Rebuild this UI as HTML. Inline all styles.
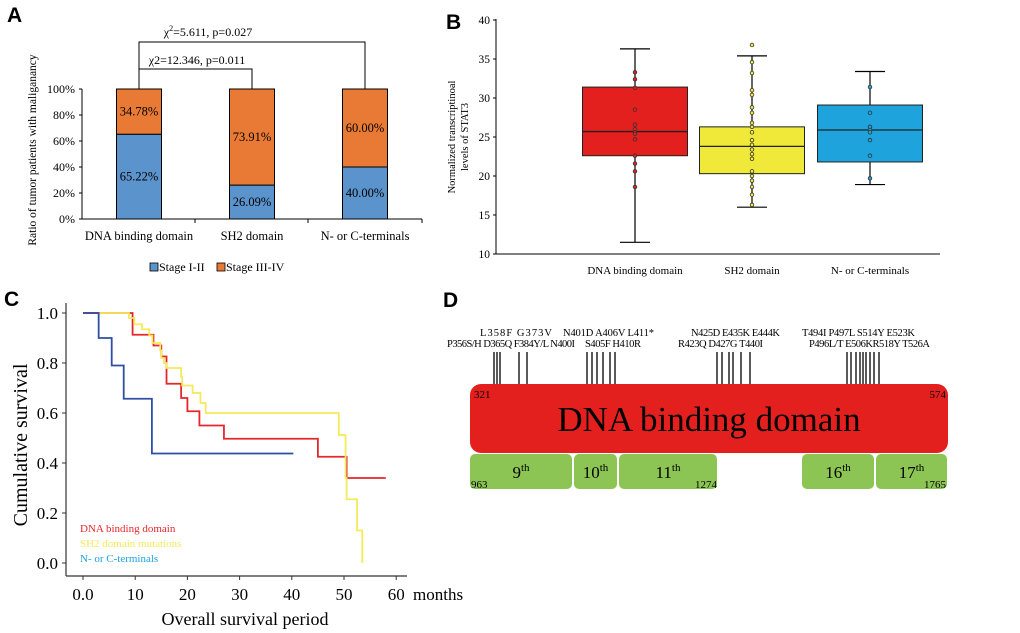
<!DOCTYPE html>
<html><head><meta charset="utf-8"><style>
body{margin:0;background:#fff}
svg{display:block;font-family:"Liberation Serif",serif}
.lt{font-family:"Liberation Sans",sans-serif;font-weight:bold;font-size:21px}
</style></head><body>
<svg id="fig" width="1020" height="633" viewBox="0 0 1020 633">
<text class="lt" x="7" y="22">A</text>
<text class="lt" x="446" y="29">B</text>
<text class="lt" x="4" y="306">C</text>
<text class="lt" x="443" y="307">D</text>
<g id="pa"></g>
<g id="pb"></g>
<g id="pc"></g>
<g id="pd"></g>
</svg>
<script>
const NS="http://www.w3.org/2000/svg";
function mk(p,t,a,txt){const e=document.createElementNS(NS,t);for(const k in a)e.setAttribute(k,a[k]);if(txt!==undefined)e.textContent=txt;p.appendChild(e);return e;}

// ---------- Panel A data ----------
const aCategories=["DNA binding domain","SH2 domain","N- or C-terminals"];
const aStage12=[65.22,26.09,40.00];
const aStage34=[34.78,73.91,60.00];
const aTicks=[0,20,40,60,80,100];
// ---------- Panel B data ----------
const bCategories=["DNA binding  domain","SH2 domain","N- or C-terminals"];
const bMin=[11.5,16.0,18.9];
const bQ1=[22.6,20.3,21.8];
const bMed=[25.7,23.8,25.9];
const bQ3=[31.4,26.3,29.1];
const bMax=[36.3,35.4,33.4];
const bPointsDNA=[33.3,32.4,31.3,28.5,26.6,26.0,25.6,25.4,24.7,22.6,21.6,20.6,18.6];
const bPointsSH2=[36.8,34.6,33.2,31.0,30.4,28.8,28.1,26.8,26.3,25.6,24.6,24.0,23.4,22.8,22.2,20.6,20.0,19.4,18.6,17.6,16.3];
const bPointsNC=[31.4,28.1,26.3,25.9,25.6,24.6,22.6,19.7];
const bTicks=[10,15,20,25,30,35,40];
// ---------- Panel C data ----------
const cBlueT=[0,3,5.5,7.8,13.2,40.3];
const cBlueS=[1,0.9,0.79,0.657,0.438,0.438];
const cRedT=[0,9.5,13.5,15,16,18.8,20,22.3,27,45,50.5,58];
const cRedS=[1,0.913,0.87,0.826,0.717,0.66,0.607,0.55,0.497,0.425,0.34,0.34];
const cYelT=[3,8.8,9.8,11.3,12.7,13.3,14.8,15,15.5,16,18.8,19,21,22.5,23.5,49,50.3,50.5,52.5,53.5];
const cYelS=[1,0.98,0.955,0.935,0.91,0.88,0.85,0.82,0.8,0.78,0.745,0.71,0.68,0.64,0.6,0.512,0.34,0.255,0.13,0];
const cXTicks=[0,10,20,30,40,50,60];
const cXLabels=["0.0","10","20","30","40","50","60"];
const cYTicks=[0,0.2,0.4,0.6,0.8,1.0];

// ===== Panel A =====
(function(){
const g=document.getElementById('pa');
const y=v=>219-v*1.3; const cx=[139,252,365]; const bw=45;
mk(g,'line',{x1:82,y1:89,x2:82,y2:219,stroke:'#000','stroke-width':1});
mk(g,'line',{x1:82,y1:219,x2:422,y2:219,stroke:'#000','stroke-width':1});
[195,308,422].forEach(x=>mk(g,'line',{x1:x,y1:219,x2:x,y2:223,stroke:'#000'}));
aTicks.forEach(t=>{mk(g,'line',{x1:79,y1:y(t),x2:82,y2:y(t),stroke:'#000'});
 const e=mk(g,'text',{x:75,y:y(t)+4,'text-anchor':'end','font-size':12},t+'%');});
aCategories.forEach((c,i)=>{
 const r1=mk(g,'rect',{x:cx[i]-bw/2,y:y(aStage12[i]),width:bw,height:aStage12[i]*1.3,fill:'#5b93cc',stroke:'#000','stroke-width':1});
 
 const top=aStage12[i]+aStage34[i];
 const r2=mk(g,'rect',{x:cx[i]-bw/2,y:y(top),width:bw,height:aStage34[i]*1.3,fill:'#e87a35',stroke:'#000','stroke-width':1});
 
 mk(g,'text',{x:cx[i],y:y(aStage12[i]/2)+4,'text-anchor':'middle','font-size':12.5},aStage12[i].toFixed(2)+'%');
 mk(g,'text',{x:cx[i],y:y(aStage12[i]+aStage34[i]/2)+4,'text-anchor':'middle','font-size':12.5},aStage34[i].toFixed(2)+'%');
 const l=mk(g,'text',{x:cx[i],y:240,'text-anchor':'middle','font-size':12.5},c);
});
mk(g,'polyline',{points:`139,89 139,69 252,69 252,89`,fill:'none',stroke:'#000'});
mk(g,'polyline',{points:`139,69 139,42 365,42 365,89`,fill:'none',stroke:'#000'});
const t1=mk(g,'text',{x:208,y:36,'text-anchor':'middle','font-size':12});t1.innerHTML='χ<tspan font-size="8" dy="-5">2</tspan><tspan dy="5">=5.611, p=0.027</tspan>';
mk(g,'text',{x:197,y:64,'text-anchor':'middle','font-size':12},'χ2=12.346, p=0.011');
const yl=mk(g,'text',{x:0,y:0,transform:'translate(36,150) rotate(-90)','text-anchor':'middle','font-size':11.5},'Ratio  of tumor  patients  with  maliganancy');

const lg=mk(g,'g',{});
mk(lg,'rect',{x:150,y:263,width:8,height:8,fill:'#5b93cc',stroke:'#000','stroke-width':0.8});
mk(lg,'text',{x:159,y:271,'font-size':12},'Stage I-II');
mk(lg,'rect',{x:217,y:263,width:8,height:8,fill:'#e87a35',stroke:'#000','stroke-width':0.8});
mk(lg,'text',{x:226,y:271,'font-size':12},'Stage III-IV');
})();

// ===== Panel B =====
(function(){
const g=document.getElementById('pb');
const y=v=>254-(v-10)*7.8; const cx=[635,752,870]; const bw=105;
const fills=['#e3201d','#f0e93a','#1ea3dc']; const pf=['#e3201d','#f0e93a','#1ea3dc'];
const pts=[bPointsDNA,bPointsSH2,bPointsNC];
mk(g,'line',{x1:496,y1:19,x2:496,y2:254,stroke:'#000'});
mk(g,'line',{x1:496,y1:254,x2:940,y2:254,stroke:'#000'});
bTicks.forEach(t=>{mk(g,'line',{x1:493,y1:y(t),x2:496,y2:y(t),stroke:'#000'});
 const e=mk(g,'text',{x:490,y:y(t)+4,'text-anchor':'end','font-size':11.5},t);});
bCategories.forEach((c,i)=>{
 mk(g,'line',{x1:cx[i],y1:y(bMin[i]),x2:cx[i],y2:y(bMax[i]),stroke:'#000','stroke-width':1.2});
 mk(g,'line',{x1:cx[i]-15,y1:y(bMin[i]),x2:cx[i]+15,y2:y(bMin[i]),stroke:'#000','stroke-width':1.2});
 mk(g,'line',{x1:cx[i]-15,y1:y(bMax[i]),x2:cx[i]+15,y2:y(bMax[i]),stroke:'#000','stroke-width':1.2});
 const b=mk(g,'rect',{x:cx[i]-bw/2,y:y(bQ3[i]),width:bw,height:y(bQ1[i])-y(bQ3[i]),fill:fills[i],stroke:'#222','stroke-width':1});
 
 mk(g,'line',{x1:cx[i]-bw/2,y1:y(bMed[i]),x2:cx[i]+bw/2,y2:y(bMed[i]),stroke:'#222','stroke-width':1.3});
 pts[i].forEach(v=>{const p=mk(g,'circle',{cx:cx[i],cy:y(v),r:1.8,fill:pf[i],stroke:'#333','stroke-width':0.8});
  });
 const l=mk(g,'text',{x:cx[i],y:274,'text-anchor':'middle','font-size':11},c);
});
const yl=mk(g,'text',{x:0,y:0,transform:'translate(455,137) rotate(-90)','text-anchor':'middle','font-size':10.5});
yl.innerHTML='<tspan x="0" dy="0">Normalized  transcriptinoal</tspan><tspan x="0" dy="13">levels  of  STAT3</tspan>';

})();

// ===== Panel C =====
(function(){
const g=document.getElementById('pc');
const x=t=>83+t*5.22; const y=s=>563-s*250;
mk(g,'line',{x1:66,y1:303,x2:66,y2:576,stroke:'#333','stroke-width':1.2});
mk(g,'line',{x1:66,y1:576,x2:407,y2:576,stroke:'#333','stroke-width':1.2});
cXTicks.forEach((t,i)=>{mk(g,'line',{x1:x(t),y1:576,x2:x(t),y2:580,stroke:'#333'});
 const e=mk(g,'text',{x:x(t),y:600,'text-anchor':'middle','font-size':17},cXLabels[i]);});
cYTicks.forEach(t=>{mk(g,'line',{x1:62,y1:y(t),x2:66,y2:y(t),stroke:'#333'});
 const e=mk(g,'text',{x:58,y:y(t)+6,'text-anchor':'end','font-size':17},t.toFixed(1));});
mk(g,'text',{x:413,y:600,'font-size':17},'months');
const xt=mk(g,'text',{x:245,y:625,'text-anchor':'middle','font-size':18},'Overall survival period');
const yt=mk(g,'text',{x:0,y:0,transform:'translate(27,445) rotate(-90)','text-anchor':'middle','font-size':20},'Cumulative survival');
function step(T,S){let p=`${x(T[0])},${y(S[0])}`;for(let i=1;i<T.length;i++){p+=` ${x(T[i])},${y(S[i-1])} ${x(T[i])},${y(S[i])}`;}return p;}
const r=mk(g,'polyline',{points:step(cRedT,cRedS),fill:'none',stroke:'#e6262b','stroke-width':1.8});
const yy=mk(g,'polyline',{points:step(cYelT,cYelS),fill:'none',stroke:'#f4ea5a','stroke-width':1.8});
const b=mk(g,'polyline',{points:step(cBlueT,cBlueS),fill:'none',stroke:'#2e4fa3','stroke-width':1.8});
const lg=mk(g,'g',{'font-size':11});
mk(lg,'text',{x:80,y:532,fill:'#e6262b'},'DNA binding domain');
mk(lg,'text',{x:80,y:547,fill:'#f4ea5a'},'SH2 domain mutations');
mk(lg,'text',{x:80,y:562,fill:'#1ea3dc'},'N- or C-terminals');
})();

// ===== Panel D =====
(function(){
const g=document.getElementById('pd');
const mutX=[494,497,500,519,527,587,592,597,603,610,615,717,722,729,733,741,750,847,851,856,860,863,866,870,874,879];
mutX.forEach(xx=>{const l=mk(g,'line',{x1:xx,y1:352,x2:xx,y2:385,stroke:'#000','stroke-width':1.3});});
const row1=[[480,552,'L358F G373V'],[563,654,'N401D  A406V  L411*'],[691,780,'N425D E435K  E444K'],[802,915,'T494I   P497L  S514Y E523K']];
const row2=[[447,575,'P356S/H D365Q F384Y/L  N400I'],[585,641,'S405F  H410R'],[678,763,'R423Q  D427G  T440I'],[809,930,'P496L/T  E506KR518Y T526A']];
row1.forEach(r=>{const t=mk(g,'text',{x:r[0],y:336,'font-size':10.5,textLength:r[1]-r[0],lengthAdjust:'spacing'},r[2]);});
row2.forEach(r=>{const t=mk(g,'text',{x:r[0],y:347,'font-size':10.5,textLength:r[1]-r[0],lengthAdjust:'spacing'},r[2]);});
const rb=mk(g,'rect',{x:470,y:384,width:478,height:69,rx:11,fill:'#e4201e'});
mk(g,'text',{x:709,y:431,'text-anchor':'middle','font-size':35},'DNA binding domain');
mk(g,'text',{x:474,y:398,'font-size':11},'321');
mk(g,'text',{x:946,y:398,'text-anchor':'end','font-size':11},'574');
const ex=[[470,572,'9'],[574,617,'10'],[619,717,'11'],[802,874,'16'],[876,947,'17']];
ex.forEach(e=>{const r=mk(g,'rect',{x:e[0],y:454,width:e[1]-e[0],height:35,rx:5,fill:'#8cc553'});
 const t=mk(g,'text',{x:(e[0]+e[1])/2,y:478,'text-anchor':'middle','font-size':17});t.innerHTML=e[2]+'<tspan font-size="11" dy="-7">th</tspan>';});
mk(g,'text',{x:471,y:488,'font-size':11},'963');
mk(g,'text',{x:717,y:488,'text-anchor':'end','font-size':11},'1274');
mk(g,'text',{x:946,y:488,'text-anchor':'end','font-size':11},'1765');
})();
</script>
</body></html>
